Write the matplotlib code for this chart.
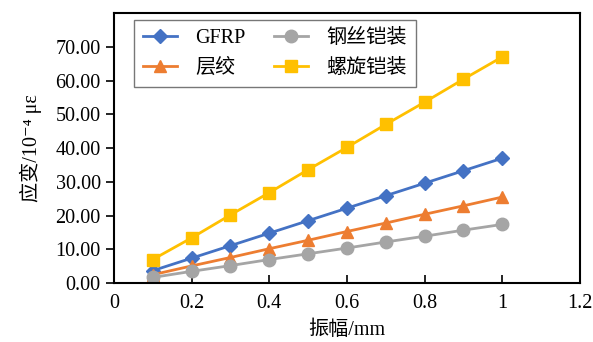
import matplotlib
matplotlib.use('Agg')
import matplotlib.pyplot as plt

plt.rcParams['font.family'] = ['Liberation Serif', 'Noto Sans CJK SC', 'DejaVu Serif']

# amplitude (mm)
amplitude = [0.1, 0.2, 0.3, 0.4, 0.5, 0.6, 0.7, 0.8, 0.9, 1.0]

# strain values (10^-4 με)
gfrp = [3.7, 7.4, 11.1, 14.8, 18.5, 22.2, 25.9, 29.6, 33.3, 37.0]
layered = [2.5, 5.1, 7.6, 10.2, 12.7, 15.3, 17.8, 20.4, 22.9, 25.5]
steel_wire = [1.7, 3.5, 5.2, 7.0, 8.7, 10.4, 12.2, 13.9, 15.7, 17.4]
spiral = [7.0, 13.4, 20.2, 26.8, 33.6, 40.2, 47.0, 53.6, 60.4, 67.0]

fig = plt.figure(figsize=(5.93, 3.42), dpi=100)
ax = fig.add_axes([0.192, 0.172, 0.786, 0.79])

ax.plot(amplitude, gfrp, color='#4472C4', marker='D', markersize=7.5, lw=2, label='GFRP')
ax.plot(amplitude, layered, color='#ED7D31', marker='^', markersize=9, lw=2, label='层绞')
ax.plot(amplitude, steel_wire, color='#A5A5A5', marker='o', markersize=9, lw=2, label='钢丝铠装')
ax.plot(amplitude, spiral, color='#FFC000', marker='s', markersize=9, lw=2, label='螺旋铠装')

ax.set_xlim(0, 1.2)
ax.set_ylim(0, 80)
ax.set_xticks([0, 0.2, 0.4, 0.6, 0.8, 1.0, 1.2])
ax.set_xticklabels(['0', '0.2', '0.4', '0.6', '0.8', '1', '1.2'])
ax.set_yticks(range(0, 80, 10))
ax.set_yticklabels(['{0:.2f}'.format(v) for v in range(0, 80, 10)])
ax.tick_params(axis='x', direction='in', length=6, width=1.2, labelsize=14.5, pad=8)
ax.tick_params(axis='y', direction='out', length=6, width=1.2, labelsize=14.5)
for s in ax.spines.values():
    s.set_linewidth(1.5)

ax.set_xlabel('振幅/mm', fontsize=14.5, labelpad=5)
ax.set_ylabel('应变/10⁻⁴ με', fontsize=14.5, labelpad=10)

leg = ax.legend(loc='upper left', bbox_to_anchor=(0.043, 0.975), ncol=2, fontsize=14.5,
                frameon=True, fancybox=False, edgecolor='#555555', handlelength=1.7,
                columnspacing=1.4, borderaxespad=0, labelspacing=0.55, handletextpad=0.9,
                borderpad=0.45)
leg.get_frame().set_linewidth(1.0)

fig.savefig('out.png', dpi=100)
